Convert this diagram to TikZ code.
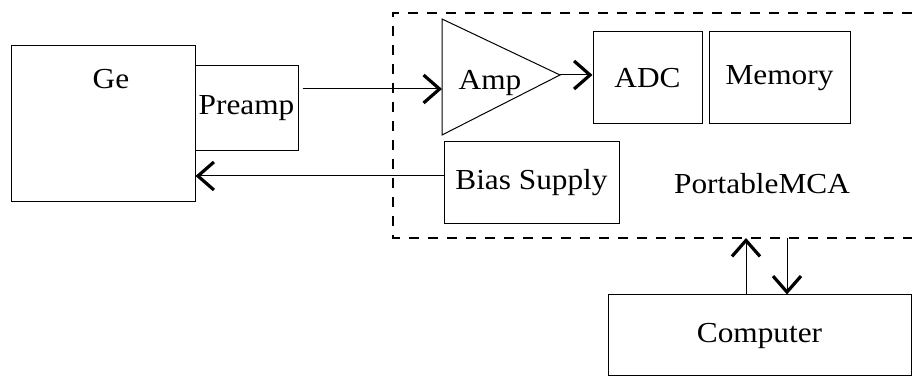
\documentclass[tikz,border=0pt]{standalone}
\usepackage{fontspec}
\setmainfont{Liberation Serif}[FakeStretch=1.08]
\usetikzlibrary{arrows.meta}

\begin{document}
\begin{tikzpicture}[x=0.5pt,y=-0.5pt,
  >={Straight Barb[length=8pt,width=14pt,line width=1.6pt]},
  font=\fontsize{14.5}{16}\selectfont,
  block/.style={draw,line width=0.5pt,inner sep=0pt},
  sig/.style={->,line width=0.5pt},
  mcabox/.style={line width=1pt,dash pattern=on 5pt off 4.5pt}]

  \useasboundingbox (0,0) rectangle (912,378);

  % detector side
  \node[block,minimum width=92pt,minimum height=78pt] (ge) at (103,124) {};
  \node (getxt) at (111,79) {Ge};
  \node[block,minimum width=51.5pt,minimum height=42.5pt] (pre) at (246.5,108.5) {Preamp};

  % portable MCA
  \draw[mcabox] (912,13) -- (393,13) -- (393,238) -- (912,238);
  \draw[line width=0.5pt] (442,19) coordinate (amptop) -- (560,75) coordinate (amptip)
    -- (442,135) coordinate (ampbot) -- cycle;
  \coordinate (ampin) at (442,89);
  \node (amp) at (490,83) {Amp};
  \node[block,minimum width=54.5pt,minimum height=46pt] (adc) at (647.5,78) {ADC};
  \node[block,minimum width=70.5pt,minimum height=46pt] (mem) at (779.5,78) {Memory};
  \node[block,minimum width=87.5pt,minimum height=41pt] (bias) at (531.5,183) {Bias Supply};
  \node (mca) at (762,184) {PortableMCA};

  % computer
  \node[block,minimum width=151.5pt,minimum height=40.5pt] (comp) at (759.5,335.5) {Computer};
  \coordinate (up) at (746,238);
  \coordinate (dn) at (787,238);

  \draw[sig,shorten <=2pt] (pre.east |- ampin) -- (ampin);
  \draw[sig] (amptip) -- (adc.west |- amptip);
  \draw[sig] ([yshift=3.5pt]bias.west) coordinate (bo) -- (ge.east |- bo);
  \draw[sig] (comp.north -| up) -- (up);
  \draw[sig] (dn) -- (comp.north -| dn);
\end{tikzpicture}
\end{document}
